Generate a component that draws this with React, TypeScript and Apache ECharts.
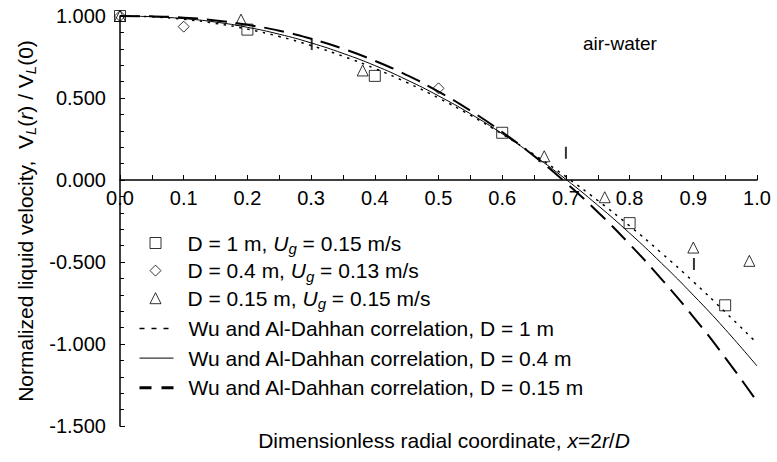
import React, { useEffect, useRef } from "react";
import * as echarts from "echarts";

const FONT = '"Liberation Sans", Arial, Helvetica, sans-serif';

// correlation curves
const xCurve = [0, 0.05, 0.1, 0.15, 0.2, 0.25, 0.3, 0.35, 0.4, 0.45, 0.5, 0.55, 0.6, 0.65, 0.7, 0.75, 0.8, 0.85, 0.9, 0.95, 1.0];
const corr1m = [1, 0.995, 0.98, 0.955, 0.92, 0.875, 0.82, 0.755, 0.68, 0.595, 0.5, 0.395, 0.28, 0.155, 0.02, -0.125, -0.28, -0.445, -0.62, -0.805, -0.995];
const corr04m = [1, 0.996, 0.984, 0.963, 0.931, 0.889, 0.836, 0.772, 0.698, 0.611, 0.513, 0.404, 0.282, 0.149, 0.004, -0.154, -0.324, -0.507, -0.702, -0.91, -1.134];
const corr015m = [1, 0.998, 0.99, 0.973, 0.946, 0.91, 0.861, 0.801, 0.727, 0.64, 0.539, 0.423, 0.292, 0.146, -0.016, -0.195, -0.391, -0.604, -0.834, -1.083, -1.35];

// measured points
const sqX = [0, 0.2, 0.4, 0.6, 0.8, 0.95];
const sqY = [1.0, 0.917, 0.635, 0.288, -0.263, -0.764];
const diX = [0, 0.1, 0.5];
const diY = [1.0, 0.935, 0.559];
const trX = [0, 0.19, 0.381, 0.666, 0.761, 0.9, 0.988];
const trY = [1.0, 0.978, 0.668, 0.145, -0.105, -0.412, -0.493];
// short vertical marks
const mkX = [0.301, 0.7, 0.901];
const mkY = [0.829, 0.166, -0.512];

const yTicks = { min: -1.5, max: 1.0, interval: 0.5 };
const xTicks = { min: 0, max: 1.0, interval: 0.1 };

const zip = (xs: number[], ys: number[]) => xs.map((x, i) => [x, ys[i]]);

const tok = (extra: any = {}) => ({ fontFamily: FONT, fontSize: 21, color: "#000", fill: "#000", lineHeight: 26, ...extra });
const rich = {
  t: tok(),
  i: tok({ fontStyle: "italic" }),
  s: tok({ fontSize: 15, fontStyle: "italic", lineHeight: 15, verticalAlign: "bottom" }),
  p: tok({ width: 10 }),
  q: tok({ width: 21.5 }),
};

const legendText: Record<string, string> = {
  sq: "{q| }{t|D = 1 m, }{i|U}{s|g}{t| = 0.15 m/s}",
  di: "{q| }{t|D = 0.4 m, }{i|U}{s|g}{t| = 0.13 m/s}",
  tr: "{q| }{t|D = 0.15 m, }{i|U}{s|g}{t| = 0.15 m/s}",
  c1: "{p| }{t|Wu and Al-Dahhan correlation, D = 1 m}",
  c04: "{p| }{t|Wu and Al-Dahhan correlation, D = 0.4 m}",
  c015: "{p| }{t|Wu and Al-Dahhan correlation, D = 0.15 m}",
};

const hollow = { color: "transparent", borderColor: "#000", borderWidth: 1 };
const legendFmt = (name: string) => legendText[name] || name;
const legendTextStyle = { fontFamily: FONT, fontSize: 21, color: "#000", rich };

export default function App() {
  const ref = useRef<HTMLDivElement>(null);
  useEffect(() => {
    if (!ref.current) return;
    const chart = echarts.init(ref.current, null, { renderer: "svg" });
    const option: any = {
      animation: false,
      backgroundColor: "#fff",
      grid: { left: 120, right: 20, top: 16, bottom: 36, containLabel: false },
      xAxis: {
        type: "value",
        min: xTicks.min,
        max: xTicks.max,
        interval: xTicks.interval,
        position: "bottom",
        offset: -246,
        axisLine: { onZero: false, lineStyle: { color: "#000", width: 1.5 } },
        axisTick: { inside: true, length: 5, lineStyle: { color: "#000", width: 1 } },
        minorTick: { show: true, splitNumber: 2, length: 5, lineStyle: { color: "#000", width: 1 } },
        splitLine: { show: false },
        axisLabel: {
          fontFamily: FONT,
          fontSize: 20,
          color: "#000",
          margin: 8,
          formatter: (v: number) => v.toFixed(1),
        },
      },
      yAxis: {
        type: "value",
        min: yTicks.min,
        max: yTicks.max,
        interval: yTicks.interval,
        axisLine: { show: true, onZero: false, lineStyle: { color: "#000", width: 1.5 } },
        axisTick: { show: true, inside: true, length: 5, lineStyle: { color: "#000", width: 1 } },
        minorTick: { show: true, splitNumber: 5, length: 4, lineStyle: { color: "#000", width: 1 } },
        splitLine: { show: false },
        axisLabel: {
          fontFamily: FONT,
          fontSize: 20,
          color: "#000",
          margin: 14,
          formatter: (v: number) => v.toFixed(3),
        },
        name: "{t|Normalized liquid velocity,  V}{s|L}{t|(}{i|r}{t|) / V}{s|L}{t|(0)}",
        nameLocation: "middle",
        nameRotate: 90,
        nameGap: 80,
        nameTextStyle: { fontFamily: FONT, fontSize: 21, color: "#000", rich },
      },
      legend: [
        {
          orient: "vertical",
          left: 149.5,
          top: 232.5,
          padding: 0,
          itemGap: 4.1,
          itemWidth: 11,
          itemHeight: 11,
          selectedMode: false,
          formatter: legendFmt,
          textStyle: legendTextStyle,
          data: [
            { name: "sq", itemStyle: { ...hollow } },
            { name: "di", itemStyle: { ...hollow } },
            { name: "tr", itemStyle: { ...hollow } },
          ],
        },
        {
          orient: "vertical",
          left: 138,
          top: 318,
          padding: 0,
          itemGap: 8.6,
          itemWidth: 34,
          itemHeight: 11,
          selectedMode: false,
          formatter: legendFmt,
          textStyle: legendTextStyle,
          data: [
            { name: "c1", itemStyle: { opacity: 0 }, lineStyle: { color: "#000", width: 1.5, type: [5, 7] } },
            { name: "c04", itemStyle: { opacity: 0 }, lineStyle: { color: "#000", width: 1, type: "solid" } },
            { name: "c015", itemStyle: { opacity: 0 }, lineStyle: { color: "#000", width: 3, type: [12, 10] } },
          ],
        },
      ],
      graphic: [
        {
          type: "text",
          x: 444,
          y: 440,
          style: {
            text: "{t|Dimensionless radial coordinate, }{i|x}{t|=2}{i|r}{t|/}{i|D}",
            rich,
            fontFamily: FONT,
            fontSize: 21,
            fill: "#000",
            align: "center",
            verticalAlign: "middle",
          },
        },
        {
          type: "text",
          x: 583,
          y: 43,
          style: {
            text: "air-water",
            fontFamily: FONT,
            fontSize: 19,
            fill: "#000",
            align: "left",
            verticalAlign: "middle",
          },
        },
      ],
      series: [
        {
          name: "c1",
          type: "line",
          data: zip(xCurve, corr1m),
          smooth: true,
          symbol: "none",
          itemStyle: { color: "#000" },
          lineStyle: { color: "#000", width: 1.5, type: [2.5, 5.5] },
          z: 2,
        },
        {
          name: "c04",
          type: "line",
          data: zip(xCurve, corr04m),
          smooth: true,
          symbol: "none",
          itemStyle: { color: "#000" },
          lineStyle: { color: "#000", width: 1, type: "solid" },
          z: 2,
        },
        {
          name: "c015",
          type: "line",
          data: zip(xCurve, corr015m),
          smooth: true,
          symbol: "none",
          itemStyle: { color: "#000" },
          lineStyle: { color: "#000", width: 2, type: [20, 9] },
          z: 2,
        },
        {
          name: "sq",
          type: "scatter",
          symbol: "rect",
          symbolSize: 11,
          data: zip(sqX, sqY),
          itemStyle: { ...hollow },
          z: 3,
        },
        {
          name: "di",
          type: "scatter",
          symbol: "diamond",
          symbolSize: 11,
          data: zip(diX, diY),
          itemStyle: { ...hollow },
          z: 3,
        },
        {
          name: "tr",
          type: "scatter",
          symbol: "triangle",
          symbolSize: 11,
          data: zip(trX, trY),
          itemStyle: { ...hollow },
          z: 3,
        },
        {
          name: "marks",
          type: "scatter",
          symbol: "rect",
          symbolSize: [2, 12],
          data: zip(mkX, mkY),
          itemStyle: { color: "#000" },
          z: 3,
        },
      ],
    };
    chart.setOption(option);
    return () => chart.dispose();
  }, []);
  return (
    <div
      ref={ref}
      style={{ position: "absolute", left: 0, top: 0, width: 777, height: 462, background: "#fff" }}
    />
  );
}
